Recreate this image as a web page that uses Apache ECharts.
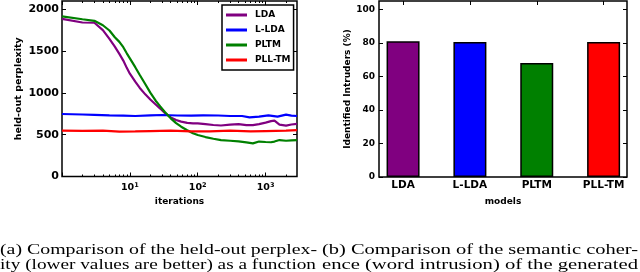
<!DOCTYPE html>
<html><head><meta charset="utf-8">
<script src="https://cdn.jsdelivr.net/npm/echarts@6/dist/echarts.min.js"></script>
<style>html,body{margin:0;padding:0;background:#fff}#c{width:640px;height:272px}</style>
</head><body><div id="c"></div><script>
// ---- data (left panel: held-out perplexity vs iterations) ----
const iterations = [1,2,3,4,5,6,7,8,9,10,12,14,17,20,24,28,33,40,48,57,70,85,100,130,170,220,300,400,520,650,800,1000,1200,1350,1600,2000,2400,2900];
const ldaPerplexity = [1887,1843,1840,1751,1646,1554,1467,1387,1300,1230,1135,1060,980,921,861,813,758,707,676,657,642,636,636,627,616,610,620,627,615,615,627,645,662,668,620,608,622,630];
const pltmPerplexity = [1915,1882,1863,1810,1747,1667,1611,1547,1474,1414,1308,1214,1101,1004,907,839,769,696,639,596,554,518,496,472,452,435,428,421,408,396,418,413,410,418,436,428,432,436];
const lldaIterations = [1,2,3,5,8,12,20,30,50,80,120,200,300,450,580,800,1100,1500,2000,2400,2900];
const lldaPerplexity = [748,742,738,732,728,724,732,736,730,728,732,730,724,724,707,716,732,716,740,728,724];
const plltmIterations = [1,2,4,7,12,20,40,80,150,300,600,1000,2000,2900];
const plltmPerplexity = [548,546,548,536,540,544,548,540,540,548,540,544,548,556];
const perplexityTicks = [0,500,1000,1500,2000];
const iterMajorTicks = [1,10,100,1000];
const iterLabelTicks = [10,100,1000];
const iterMinorTicks = [2,3,4,5,6,7,8,9,20,30,40,50,60,70,80,90,200,300,400,500,600,700,800,900,2000];
// ---- data (right panel: word intrusion) ----
const models = ['LDA','L-LDA','PLTM','PLL-TM'];
const intruders = [81, 80.5, 68, 80.5];
const intruderTicks = [0,20,40,60,80,100];
const modelColors = ['#800080','#0000ff','#008000','#ff0000'];
const captionA = ['(a) Comparison of the held-out perplex-', 'ity (lower values are better) as a function'];
const captionB = ['(b) Comparison of the semantic coher-', 'ence (word intrusion) of the generated'];

const FF = 'DejaVu Sans';
const chart = echarts.init(document.getElementById('c'));

function tickAxis(extra) {
  return Object.assign({
    axisLine: {show: false, onZero: false},
    splitLine: {show: false},
    axisLabel: {show: false},
    axisTick: {show: true, inside: true, length: 4, lineStyle: {color: '#000', width: 1}}
  }, extra);
}

// caption line stretched to span [x0, x1] (the source figure is justified text)
function captionLine(text, x0, x1, y, size) {
  const font = size + 'px "Liberation Serif"';
  const ctx = document.createElement('canvas').getContext('2d');
  ctx.font = font;
  const w = ctx.measureText(text).width;
  return {type: 'text', x: x0, y: y, scaleX: (x1 - x0) / w, silent: true,
    style: {text: text, font: font, fill: '#000', align: 'left', verticalAlign: 'middle'}};
}

const g0 = {left: 62, top: 1, width: 235, height: 175.5, show: true, borderColor: '#000', borderWidth: 1.5};
const g1 = {left: 379, top: 1, width: 248, height: 176, show: true, borderColor: '#000', borderWidth: 1.5};

const logRange = {type: 'log', logBase: 10, min: 1, max: 2900, gridIndex: 0};
const barRange = {type: 'value', min: -0.36, max: 3.35, gridIndex: 1};

const option = {
  animation: false,
  backgroundColor: '#fff',
  grid: [g0, g1],
  legend: {
    data: models,
    orient: 'vertical', left: 222, top: 5,
    padding: [4, 3, 4, 4],
    itemWidth: 21, itemHeight: 3, itemGap: 3,
    icon: 'rect',
    backgroundColor: '#fff', borderColor: '#000', borderWidth: 1.5, borderRadius: 0,
    textStyle: {fontFamily: FF, fontWeight: 'bold', fontSize: 9, color: '#000', lineHeight: 12, padding: [0, 0, 0, 3]}
  },
  xAxis: [
    tickAxis(Object.assign({}, logRange, {
      position: 'bottom',
      axisTick: {show: true, inside: true, length: 4, customValues: iterMajorTicks, lineStyle: {color: '#000'}},
      axisLabel: {
        show: true, customValues: iterLabelTicks, margin: 5,
        formatter: v => '{b|10}{s|' + Math.round(Math.log10(v)) + '}',
        rich: {
          b: {fontFamily: FF, fontWeight: 'bold', fontSize: 9.5, color: '#000', verticalAlign: 'bottom'},
          s: {fontFamily: FF, fontWeight: 'bold', fontSize: 6.5, color: '#000', verticalAlign: 'top', padding: [0, 0, 4, 0]}
        }
      },
      name: 'iterations', nameLocation: 'middle', nameGap: 20,
      nameTextStyle: {fontFamily: FF, fontWeight: 'bold', fontSize: 9, color: '#000'}
    })),
    tickAxis(Object.assign({}, logRange, {position: 'bottom', axisTick: {show: true, inside: true, length: 2, customValues: iterMinorTicks, lineStyle: {color: '#000'}}})),
    tickAxis(Object.assign({}, logRange, {position: 'top', axisTick: {show: true, inside: true, length: 4, customValues: iterMajorTicks, lineStyle: {color: '#000'}}})),
    tickAxis(Object.assign({}, logRange, {position: 'top', axisTick: {show: true, inside: true, length: 2, customValues: iterMinorTicks, lineStyle: {color: '#000'}}})),
    tickAxis(Object.assign({}, barRange, {
      position: 'bottom',
      axisTick: {show: true, inside: true, length: 4, customValues: [0, 1, 2, 3], lineStyle: {color: '#000'}},
      axisLabel: {show: true, customValues: [0, 1, 2, 3], margin: 3, formatter: v => models[Math.round(v)],
        fontFamily: FF, fontWeight: 'bold', fontSize: 10.5, color: '#000'},
      name: 'models', nameLocation: 'middle', nameGap: 20,
      nameTextStyle: {fontFamily: FF, fontWeight: 'bold', fontSize: 9, color: '#000'}
    })),
    tickAxis(Object.assign({}, barRange, {position: 'top', axisTick: {show: true, inside: true, length: 4, customValues: [0, 1, 2, 3], lineStyle: {color: '#000'}}}))
  ],
  yAxis: [
    tickAxis({
      type: 'value', gridIndex: 0, min: 0, max: 2100, position: 'left',
      axisTick: {show: true, inside: true, length: 4, customValues: perplexityTicks, lineStyle: {color: '#000'}},
      axisLabel: {show: true, customValues: perplexityTicks, margin: 3, formatter: v => String(v),
        fontFamily: FF, fontWeight: 'bold', fontSize: 11, color: '#000'},
      name: 'held-out perplexity', nameLocation: 'middle', nameGap: 38,
      nameTextStyle: {fontFamily: FF, fontWeight: 'bold', fontSize: 9.5, color: '#000'}
    }),
    tickAxis({type: 'value', gridIndex: 0, min: 0, max: 2100, position: 'right',
      axisTick: {show: true, inside: true, length: 4, customValues: perplexityTicks, lineStyle: {color: '#000'}}}),
    tickAxis({
      type: 'value', gridIndex: 1, min: 0, max: 105, position: 'left',
      axisTick: {show: true, inside: true, length: 4, customValues: intruderTicks, lineStyle: {color: '#000'}},
      axisLabel: {show: true, customValues: intruderTicks, margin: 4, formatter: v => String(v),
        fontFamily: FF, fontWeight: 'bold', fontSize: 9, color: '#000'},
      name: 'Identified Intruders (%)', nameLocation: 'middle', nameGap: 27,
      nameTextStyle: {fontFamily: FF, fontWeight: 'bold', fontSize: 9, color: '#000'}
    }),
    tickAxis({type: 'value', gridIndex: 1, min: 0, max: 105, position: 'right',
      axisTick: {show: true, inside: true, length: 4, customValues: intruderTicks, lineStyle: {color: '#000'}}})
  ],
  series: [
    {name: 'LDA', type: 'line', xAxisIndex: 0, yAxisIndex: 0, showSymbol: false, symbol: 'none',
      lineStyle: {color: modelColors[0], width: 2.2}, itemStyle: {color: modelColors[0]},
      data: iterations.map((x, i) => [x, ldaPerplexity[i]])},
    {name: 'L-LDA', type: 'line', xAxisIndex: 0, yAxisIndex: 0, showSymbol: false, symbol: 'none',
      lineStyle: {color: modelColors[1], width: 2.2}, itemStyle: {color: modelColors[1]},
      data: lldaIterations.map((x, i) => [x, lldaPerplexity[i]])},
    {name: 'PLTM', type: 'line', xAxisIndex: 0, yAxisIndex: 0, showSymbol: false, symbol: 'none',
      lineStyle: {color: modelColors[2], width: 2.2}, itemStyle: {color: modelColors[2]},
      data: iterations.map((x, i) => [x, pltmPerplexity[i]])},
    {name: 'PLL-TM', type: 'line', xAxisIndex: 0, yAxisIndex: 0, showSymbol: false, symbol: 'none',
      lineStyle: {color: modelColors[3], width: 2.2}, itemStyle: {color: modelColors[3]},
      data: plltmIterations.map((x, i) => [x, plltmPerplexity[i]])},
    {type: 'bar', xAxisIndex: 4, yAxisIndex: 2, barWidth: 33,
      data: intruders.map((v, i) => ({value: [i, v], itemStyle: {color: modelColors[i], borderColor: '#000', borderWidth: 1.5}}))}
  ],
  graphic: [
    captionLine(captionA[0], 0, 317, 250.5, 14.5),
    captionLine(captionA[1], 0, 316, 265.5, 14.5),
    captionLine(captionB[0], 322, 638, 250.5, 14.5),
    captionLine(captionB[1], 322, 638, 265.5, 14.5)
  ]
};
chart.setOption(option);
</script></body></html>
